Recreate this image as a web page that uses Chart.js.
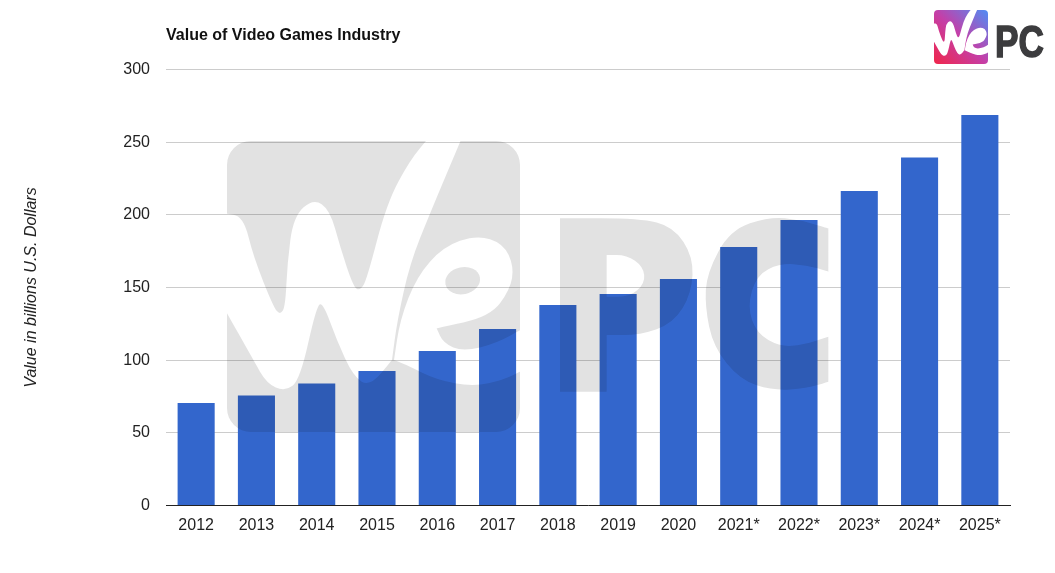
<!DOCTYPE html>
<html>
<head>
<meta charset="utf-8">
<title>Value of Video Games Industry</title>
<script src="https://cdn.jsdelivr.net/npm/chart.js@4"></script>
<style>
    html, body { margin: 0; padding: 0; background: #fff; }
    canvas { display: block; }
</style>
</head>
<body>
<canvas id="chart" width="1055" height="573"></canvas>
<script>
const years = ['2012', '2013', '2014', '2015', '2016', '2017', '2018', '2019', '2020', '2021*', '2022*', '2023*', '2024*', '2025*'];
const industryValue = [70.5, 75.7, 84, 92.5, 106.3, 121.4, 138, 145.5, 155.8, 177.9, 196.4, 216.4, 239.5, 268.7];
const valueTicks = [0, 50, 100, 150, 200, 250, 300];

const chartFont = '"Liberation Sans", Arial, sans-serif';

// logo outlines. a repeated point keeps its corner sharp
const wOutline = [[40,250],[40,250],[100,258],[130,380],[190,530],[210,555],[226,530],[232,400],[250,260],[310,205],[360,240],[390,350],[430,470],[450,482],[470,450],[530,220],[600,90],[655,25],[655,25],[755,25],[755,25],[660,250],[600,400],[562,570],[546,690],[546,690],[480,770],[430,740],[380,630],[340,520],[320,525],[270,750],[225,785],[170,760],[130,690],[40,530],[40,530]];
const eOutline = [[552,690],[552,690],[570,570],[620,440],[700,350],[800,315],[880,340],[912,410],[900,480],[840,560],[680,595],[680,595],[700,640],[760,665],[860,640],[940,595],[940,595],[940,720],[940,720],[880,750],[790,770],[680,750],[600,710]];
const pOutline = [[60,55],[60,55],[300,55],[400,80],[460,170],[455,280],[400,370],[300,405],[200,405],[200,405],[200,575],[200,575],[60,575],[60,575]];
const pCounter = [[200,165],[200,165],[260,165],[310,200],[315,250],[270,290],[200,290],[200,290]];
const cOutline = [[865,85],[865,85],[780,60],[690,50],[570,90],[500,220],[495,320],[520,440],[600,540],[700,572],[800,565],[865,545],[865,545],[865,410],[865,410],[790,435],[720,440],[650,400],[622,320],[650,225],[720,190],[800,195],[865,215],[865,215]];

function tracePath(ctx, points, mapX, mapY) {
    const p = points.map(function(pt) { return [mapX(pt[0]), mapY(pt[1])]; });
    ctx.beginPath();
    ctx.moveTo((p[0][0] + p[p.length - 1][0]) / 2, (p[0][1] + p[p.length - 1][1]) / 2);
    for (let i = 0; i < p.length; i++) {
        const next = p[(i + 1) % p.length];
        ctx.quadraticCurveTo(p[i][0], p[i][1], (p[i][0] + next[0]) / 2, (p[i][1] + next[1]) / 2);
    }
    ctx.closePath();
}

function roundedSquare(ctx, x, y, w, h, r) {
    ctx.beginPath();
    ctx.roundRect(x, y, w, h, r);
}

function buildWatermark() {
    const layer = document.createElement('canvas');
    layer.width = 1055;
    layer.height = 573;
    const c = layer.getContext('2d');
    const wX = function(v) { return v / 3 + 210; };
    const wY = function(v) { return v / 3 + 130; };
    const pX = function(v) { return v / 3 + 540; };
    const pY = function(v) { return v / 3 + 200; };
    const grey = '#e2e2e2';

    c.fillStyle = grey;
    roundedSquare(c, 227, 141, 293, 291, 24);
    c.fill();
    c.globalCompositeOperation = 'destination-out';
    tracePath(c, wOutline, wX, wY);
    c.fill();
    tracePath(c, eOutline, wX, wY);
    c.fill();
    c.globalCompositeOperation = 'source-over';
    c.beginPath();
    c.ellipse(wX(758), wY(452), 17.5, 13.5, -0.2, 0, Math.PI * 2);
    c.fill();

    tracePath(c, pOutline, pX, pY);
    c.fill();
    c.globalCompositeOperation = 'destination-out';
    tracePath(c, pCounter, pX, pY);
    c.fill();
    c.globalCompositeOperation = 'source-over';
    tracePath(c, cOutline, pX, pY);
    c.fill();
    return layer;
}

const watermark = buildWatermark();

// the picture has the grey logo laid over the bars, so it darkens them
const watermarkPlugin = {
    id: 'watermark',
    afterDatasetsDraw: function(chart) {
        const ctx = chart.ctx;
        ctx.save();
        ctx.globalCompositeOperation = 'multiply';
        ctx.drawImage(watermark, 0, 0, 1055, 573);
        ctx.restore();
    }
};

const logoPlugin = {
    id: 'logo',
    afterDraw: function(chart) {
        const ctx = chart.ctx;
        const size = 54 / 293;
        const logoX = function(v) { return 934 + (v / 3 + 210 - 227) * size; };
        const logoY = function(v) { return 10 + (v / 3 + 130 - 141) * size; };
        ctx.save();
        const grad = ctx.createLinearGradient(934, 64, 988, 10);
        grad.addColorStop(0, '#f0264a');
        grad.addColorStop(0.5, '#c43fa8');
        grad.addColorStop(1, '#4f8df5');
        ctx.fillStyle = grad;
        roundedSquare(ctx, 934, 10, 54, 54, 4);
        ctx.fill();
        roundedSquare(ctx, 934, 10, 54, 54, 4);
        ctx.clip();
        ctx.fillStyle = '#fff';
        tracePath(ctx, wOutline, logoX, logoY);
        ctx.fill();
        tracePath(ctx, eOutline, logoX, logoY);
        ctx.fill();
        ctx.restore();

        ctx.save();
        ctx.fillStyle = '#3c3c3e';
        ctx.strokeStyle = '#3c3c3e';
        ctx.lineWidth = 1.5;
        ctx.font = 'bold 44px ' + chartFont;
        ctx.textAlign = 'left';
        ctx.textBaseline = 'alphabetic';
        ctx.translate(995, 56.5);
        ctx.scale(0.8, 1);
        ctx.fillText('PC', 0, 0);
        ctx.strokeText('PC', 0, 0);
        ctx.restore();
    }
};

new Chart(document.getElementById('chart').getContext('2d'), {
    type: 'bar',
    data: {
        labels: years,
        datasets: [{
            data: industryValue,
            backgroundColor: '#3366cc',
            categoryPercentage: 1,
            barPercentage: 0.615
        }]
    },
    plugins: [watermarkPlugin, logoPlugin],
    options: {
        responsive: false,
        animation: false,
        layout: { padding: { left: 22, right: 45, top: 0, bottom: 0 } },
        plugins: {
            legend: { display: false },
            tooltip: { enabled: false },
            title: {
                display: true,
                text: 'Value of Video Games Industry',
                align: 'start',
                fullSize: false,
                color: '#111',
                font: { family: chartFont, size: 16, weight: 'bold' },
                padding: { top: 25.5, bottom: 24.8 }
            }
        },
        scales: {
            x: {
                grid: { display: false, drawTicks: false },
                border: { color: '#222', width: 1 },
                ticks: { color: '#222', font: { family: chartFont, size: 16 }, padding: 10, maxRotation: 0, autoSkip: false },
                afterFit: function(scale) { scale.height = 67.5; }
            },
            y: {
                min: 0,
                max: 300,
                grid: { color: '#cccccc', drawTicks: false },
                border: { display: false },
                afterBuildTicks: function(scale) {
                    scale.ticks = valueTicks.map(function(v) { return { value: v }; });
                },
                ticks: { color: '#222', font: { family: chartFont, size: 16 }, padding: 16 },
                title: {
                    display: true,
                    text: 'Value in billions U.S. Dollars',
                    color: '#222',
                    font: { family: chartFont, size: 16, style: 'italic' },
                    padding: 0
                },
                afterFit: function(scale) { scale.width = 144; }
            }
        }
    }
});
</script>
</body>
</html>
